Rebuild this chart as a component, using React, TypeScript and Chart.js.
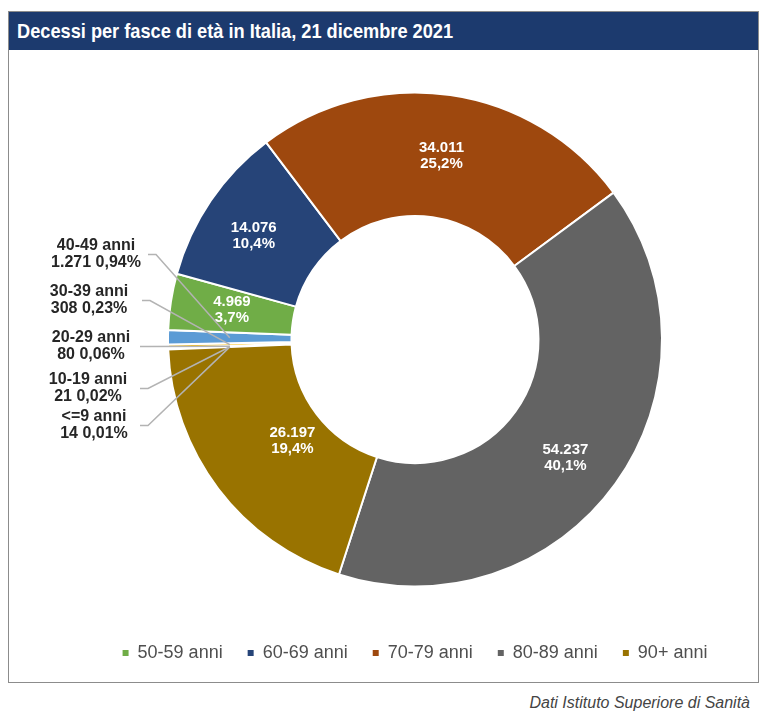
import React, { useEffect, useLayoutEffect, useRef } from 'react';
import { Chart, registerables } from 'chart.js';

Chart.register(...registerables);

const categories = ['<=9 anni', '10-19 anni', '20-29 anni', '30-39 anni', '40-49 anni', '50-59 anni', '60-69 anni', '70-79 anni', '80-89 anni', '90+ anni'];
const deaths = [14, 21, 80, 308, 1271, 4969, 14076, 34011, 54237, 26197];
const sliceColors = ['#4472C4', '#ED7D31', '#A5A5A5', '#FFC000', '#5B9BD5', '#70AD47', '#264478', '#9E480E', '#636363', '#997300'];
const legendCategories = ['50-59 anni', '60-69 anni', '70-79 anni', '80-89 anni', '90+ anni'];
const titleText = 'Decessi per fasce di età in Italia, 21 dicembre 2021';
const sourceText = 'Dati Istituto Superiore di Sanità';

const fmtInt = (n: number) => String(n).replace(/\B(?=(\d{3})+(?!\d))/g, '.');
const fmtPct = (p: number, d: number) => p.toFixed(d).replace('.', ',') + '%';

const sliceLabels = {
  id: 'sliceLabels',
  afterDatasetsDraw(chart: any, _args: any, opts: any) {
    const ctx = chart.ctx;
    const meta = chart.getDatasetMeta(0);
    const data = chart.data.datasets[0].data as number[];
    const labels = chart.data.labels as string[];
    const total = data.reduce((a, b) => a + b, 0);
    const cx = meta.data[0].x;
    const cy = meta.data[0].y;
    ctx.save();
    ctx.textAlign = 'center';
    ctx.textBaseline = 'middle';
    ctx.font = 'bold 15px "Liberation Sans", Arial, sans-serif';
    ctx.fillStyle = '#ffffff';
    opts.inside.forEach((o: any) => {
      const p = meta.data[o.index].tooltipPosition(false);
      const v = data[o.index];
      ctx.fillText(fmtInt(v), p.x + o.dx, p.y + o.dy - 8);
      ctx.fillText(fmtPct((v / total) * 100, 1), p.x + o.dx, p.y + o.dy + 8);
    });
    opts.outside.forEach((o: any) => {
      const p = meta.data[o.index].tooltipPosition(false);
      const v = data[o.index];
      const ly = cy + o.dy;
      const sx = cx + o.lx;
      ctx.strokeStyle = '#b3b3b3';
      ctx.lineWidth = 1.5;
      ctx.beginPath();
      ctx.moveTo(sx, ly);
      ctx.lineTo(sx + 8, ly);
      ctx.lineTo(p.x, p.y);
      ctx.stroke();
      ctx.fillStyle = '#262626';
      ctx.font = 'bold 16px "Liberation Sans", Arial, sans-serif';
      ctx.fillText(labels[o.index], cx + o.dx, ly - 8.5);
      ctx.fillText(fmtInt(v) + ' ' + fmtPct((v / total) * 100, 2), cx + o.dx, ly + 8.5);
    });
    ctx.restore();
  },
};

export default function App() {
  const ref = useRef<HTMLCanvasElement>(null);
  const titleRef = useRef<HTMLSpanElement>(null);

  useLayoutEffect(() => {
    const el = titleRef.current;
    if (!el) return;
    const w = el.offsetWidth;
    if (w > 0) el.style.transform = `scaleX(${436 / w})`;
  }, []);

  useEffect(() => {
    if (!ref.current) return;
    const chart = new Chart(ref.current, {
      type: 'doughnut',
      data: {
        labels: categories,
        datasets: [
          {
            data: deaths,
            backgroundColor: sliceColors,
            borderColor: '#ffffff',
            borderWidth: 2,
          },
        ],
      },
      options: {
        animation: false,
        responsive: false,
        radius: 247,
        cutout: '50%',
        rotation: -92.3,
        layout: { padding: { left: 63, right: 0, top: 10, bottom: 10 } },
        events: [],
        plugins: {
          tooltip: { enabled: false },
          legend: {
            position: 'bottom',
            labels: {
              boxWidth: 6,
              boxHeight: 6,
              padding: 25,
              color: '#4f4f4f',
              font: { family: '"Liberation Sans", Arial, sans-serif', size: 18 },
              generateLabels: (c: any) => {
                const base = (Chart as any).overrides.doughnut.plugins.legend.labels.generateLabels(c);
                return base
                  .filter((i: any) => legendCategories.includes(i.text))
                  .map((i: any) => ({ ...i, lineWidth: 0, strokeStyle: 'rgba(0,0,0,0)' }));
              },
            },
          },
          sliceLabels: {
            inside: [
              { index: 5, dx: 0, dy: -1 },
              { index: 6, dx: -8, dy: 0 },
              { index: 7, dx: 0, dy: 0 },
              { index: 8, dx: 0, dy: 10 },
              { index: 9, dx: 25, dy: -11 },
            ],
            outside: [
              { index: 4, dx: -319, dy: -85, lx: -267 },
              { index: 3, dx: -326, dy: -39, lx: -273 },
              { index: 2, dx: -324, dy: 7, lx: -275 },
              { index: 1, dx: -327, dy: 49, lx: -275 },
              { index: 0, dx: -321, dy: 86, lx: -275 },
            ],
          },
        } as any,
      },
      plugins: [sliceLabels],
    });
    return () => chart.destroy();
  }, []);

  return (
    <div>
      <div
        style={{
          marginTop: 3,
          width: 751,
          boxSizing: 'border-box',
          border: '1px solid #8c8c8c',
          background: '#ffffff',
        }}
      >
        <div
          style={{
            height: 38,
            background: '#1c3a6e',
            color: '#ffffff',
            fontFamily: '"Liberation Sans", Arial, sans-serif',
            fontWeight: 'bold',
            fontSize: 21,
            lineHeight: '38px',
            paddingLeft: 8,
            whiteSpace: 'nowrap',
            overflow: 'hidden',
          }}
        >
          <span ref={titleRef} style={{ display: 'inline-block', transformOrigin: 'left center' }}>
            {titleText}
          </span>
        </div>
        <div style={{ width: 749, height: 632 }}>
          <canvas ref={ref} width={749} height={632} style={{ display: 'block' }} />
        </div>
      </div>
      <div
        style={{
          width: 751,
          textAlign: 'right',
          boxSizing: 'border-box',
          paddingRight: 9,
          marginTop: 10,
          fontFamily: '"Liberation Sans", Arial, sans-serif',
          fontStyle: 'italic',
          fontSize: 16,
          lineHeight: '20px',
          color: '#444444',
        }}
      >
        {sourceText}
      </div>
    </div>
  );
}
